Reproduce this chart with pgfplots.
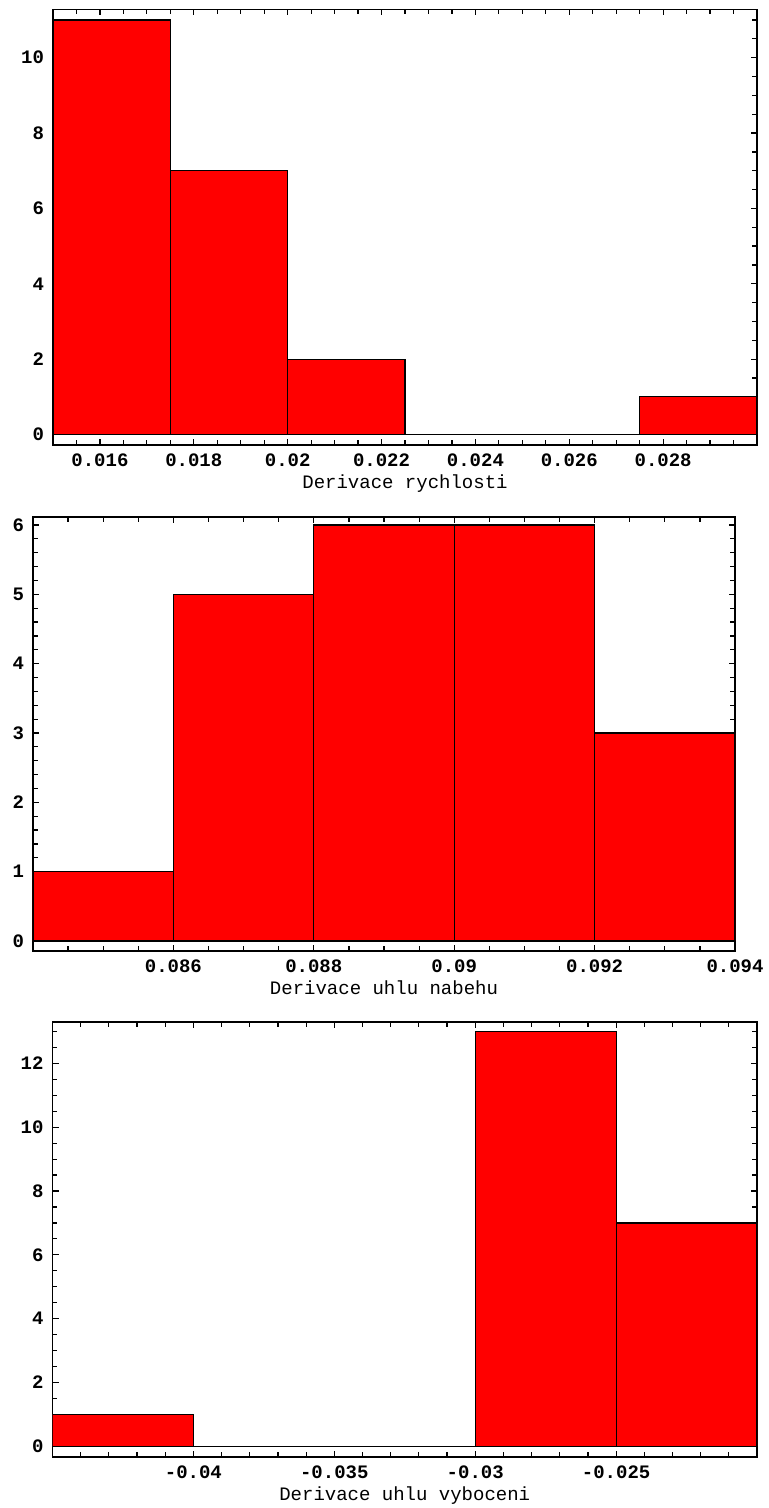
\documentclass[border=0pt]{standalone}
\usepackage{fontspec}
\setmainfont{Liberation Mono}
\usepackage{pgfplots}
\pgfplotsset{compat=1.18}
\pgfplotsset{hist/.style={
  scale only axis,
  anchor=south west,
  scaled x ticks=false, scaled y ticks=false,
  axis line style={line width=0.9pt},
  every tick/.style={black, line width=0.6pt},
  major tick length=3pt, minor tick length=2.4pt,
  tick align=inside,
  xtick pos=both, ytick pos=both,
  ticklabel style={font=\fontsize{9.5}{11}\selectfont\bfseries},
  label style={font=\fontsize{9.5}{11}\selectfont},
  xticklabel style={yshift=-1pt},
  xlabel style={yshift=3pt},
  yticklabel style={xshift=-1pt},
}}
\begin{document}
\begin{tikzpicture}
\useasboundingbox (0pt,0pt) rectangle (384.5pt,-754pt);
% Panel 1
\begin{axis}[hist, at={(26.5pt,-222.5pt)}, width=352pt, height=217.75pt,
  xmin=0.015, xmax=0.03, ymin=-0.28, ymax=11.28,
  xtick={0.016,0.018,0.02,0.022,0.024,0.026,0.028},
  xticklabels={0.016,0.018,0.02,0.022,0.024,0.026,0.028},
  minor xtick={0.0155,0.0165,0.017,0.0175,0.0185,0.019,0.0195,0.0205,0.021,0.0215,0.0225,0.023,0.0235,0.0245,0.025,0.0255,0.0265,0.027,0.0275,0.0285,0.029,0.0295},
  ytick={0,2,4,6,8,10}, yticklabels={0,2,4,6,8,10},
  minor ytick={0.5,1,1.5,2.5,3,3.5,4.5,5,5.5,6.5,7,7.5,8.5,9,9.5,10.5,11},
  xlabel={Derivace rychlosti}]
\addplot[ybar interval, fill=red, draw=black, line width=0.6pt] coordinates {
(0.015,11) (0.0175,7) (0.02,2) (0.0225,0) (0.025,0) (0.0275,1) (0.03,1)};
\end{axis}
% Panel 2
\begin{axis}[hist, at={(16.5pt,-475.5pt)}, width=351pt, height=217.15pt,
  xmin=0.084, xmax=0.094, ymin=-0.144, ymax=6.12,
  xtick={0.086,0.088,0.09,0.092,0.094},
  xticklabels={0.086,0.088,0.09,0.092,0.094},
  minor xtick={0.0845,0.085,0.0855,0.0865,0.087,0.0875,0.0885,0.089,0.0895,0.0905,0.091,0.0915,0.0925,0.093,0.0935},
  ytick={0,1,2,3,4,5,6}, yticklabels={0,1,2,3,4,5,6},
  minor ytick={0.2,0.4,0.6,0.8,1.2,1.4,1.6,1.8,2.2,2.4,2.6,2.8,3.2,3.4,3.6,3.8,4.2,4.4,4.6,4.8,5.2,5.4,5.6,5.8},
  xlabel={Derivace uhlu nabehu}]
\addplot[ybar interval, fill=red, draw=black, line width=0.6pt] coordinates {
(0.084,1) (0.086,5) (0.088,6) (0.09,6) (0.092,3) (0.094,3)};
\end{axis}
% Panel 3
\begin{axis}[hist, at={(26.25pt,-728.5pt)}, width=352.25pt, height=217.5pt,
  xmin=-0.045, xmax=-0.02, ymin=-0.34, ymax=13.3,
  xtick={-0.04,-0.035,-0.03,-0.025},
  xticklabels={-0.04,-0.035,-0.03,-0.025},
  minor xtick={-0.044,-0.043,-0.042,-0.041,-0.039,-0.038,-0.037,-0.036,-0.034,-0.033,-0.032,-0.031,-0.029,-0.028,-0.027,-0.026,-0.024,-0.023,-0.022,-0.021},
  ytick={0,2,4,6,8,10,12}, yticklabels={0,2,4,6,8,10,12},
  minor ytick={0.5,1,1.5,2.5,3,3.5,4.5,5,5.5,6.5,7,7.5,8.5,9,9.5,10.5,11,11.5,12.5,13},
  xlabel={Derivace uhlu vyboceni}]
\addplot[ybar interval, fill=red, draw=black, line width=0.6pt] coordinates {
(-0.045,1) (-0.04,0) (-0.035,0) (-0.03,13) (-0.025,7) (-0.02,7)};
\end{axis}
\end{tikzpicture}
\end{document}
